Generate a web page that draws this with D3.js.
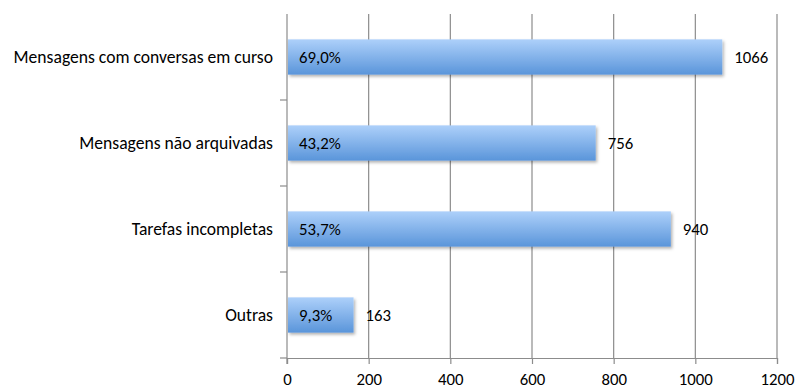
<!DOCTYPE html>
<html>
<head>
<meta charset="utf-8">
<script src="https://cdn.jsdelivr.net/npm/d3@7/dist/d3.min.js"></script>
<style>
  html, body { margin: 0; padding: 0; background: #fff; }
  svg { display: block; font-family: Carlito, Calibri, Lato, "Open Sans", sans-serif; }
</style>
</head>
<body>
<svg id="chart" width="795" height="389"></svg>
<script>
// Categories, values and in-bar percentage labels
const categories = ["Mensagens com conversas em curso", "Mensagens não arquivadas", "Tarefas incompletas", "Outras"];
const values = [1066, 756, 940, 163];
const percents = ["69,0%", "43,2%", "53,7%", "9,3%"];
const xTicks = [0, 200, 400, 600, 800, 1000, 1200];

const svg = d3.select("#chart");
const margin = { top: 14, right: 18, bottom: 31, left: 287 };
const W = 795, H = 389;
const innerW = W - margin.left - margin.right;
const innerH = H - margin.top - margin.bottom;
const labelSize = 17.6, numSize = 16.8;

const x = d3.scaleLinear().domain([0, 1200]).range([0, innerW]);
const y = d3.scaleBand().domain(categories).range([0, innerH]).paddingInner(0.59).paddingOuter(0.295);
const yb = d3.scaleBand().domain(categories).range([0, innerH]);

const defs = svg.append("defs");
const grad = defs.append("linearGradient").attr("id", "barGrad")
  .attr("x1", 0).attr("y1", 0).attr("x2", 0).attr("y2", 1);
grad.append("stop").attr("offset", "0%").attr("stop-color", "#add0fa");
grad.append("stop").attr("offset", "100%").attr("stop-color", "#5a95da");
const shadow = defs.append("filter").attr("id", "shadow")
  .attr("x", "-5%").attr("y", "-20%").attr("width", "115%").attr("height", "160%");
shadow.append("feDropShadow").attr("dx", 1.5).attr("dy", 2).attr("stdDeviation", 1.6)
  .attr("flood-color", "#000").attr("flood-opacity", 0.3);

const g = svg.append("g").attr("transform", `translate(${margin.left},${margin.top})`);

// Vertical gridlines
g.selectAll(".grid").data(xTicks.slice(1)).enter().append("line")
  .attr("x1", d => x(d)).attr("x2", d => x(d))
  .attr("y1", 0).attr("y2", innerH)
  .attr("stroke", "#8c8c8c").attr("stroke-width", 1.2);

// Category axis (left) with ticks between bands
g.append("line").attr("x1", 0).attr("x2", 0).attr("y1", 0).attr("y2", innerH + 6)
  .attr("stroke", "#8c8c8c").attr("stroke-width", 1.2);
g.selectAll(".ytick").data(categories.slice(1)).enter().append("line")
  .attr("x1", -7).attr("x2", 0)
  .attr("y1", d => yb(d)).attr("y2", d => yb(d))
  .attr("stroke", "#8c8c8c").attr("stroke-width", 1.2);
g.append("line").attr("x1", -7).attr("x2", 0).attr("y1", innerH).attr("y2", innerH)
  .attr("stroke", "#8c8c8c").attr("stroke-width", 1.2);

// Value axis (bottom)
const xAxis = g.append("g").attr("transform", `translate(0,${innerH})`)
  .call(d3.axisBottom(x).tickValues(xTicks).tickSize(6).tickPadding(9).tickFormat(d3.format("d")));
xAxis.select(".domain").attr("stroke", "#8c8c8c").attr("stroke-width", 1.2);
xAxis.selectAll(".tick line").attr("stroke", "#8c8c8c").attr("stroke-width", 1.2);
xAxis.selectAll("text").attr("font-size", numSize).attr("fill", "#000")
  .attr("font-family", "Carlito, Calibri, Lato, 'Open Sans', sans-serif");

// Category labels
g.selectAll(".cat").data(categories).enter().append("text")
  .attr("x", -14).attr("y", d => yb(d) + yb.bandwidth() / 2)
  .attr("dy", "0.35em").attr("text-anchor", "end")
  .attr("font-size", labelSize).attr("fill", "#000").text(d => d);

// Bars
const data = categories.map((c, i) => ({ c, v: values[i], p: percents[i] }));
g.selectAll(".bar").data(data).enter().append("rect")
  .attr("x", 1).attr("y", d => y(d.c))
  .attr("width", d => x(d.v) - 1).attr("height", y.bandwidth())
  .attr("fill", "url(#barGrad)").attr("filter", "url(#shadow)");

// Percentage labels inside bars
g.selectAll(".pct").data(data).enter().append("text")
  .attr("x", 12).attr("y", d => y(d.c) + y.bandwidth() / 2)
  .attr("dy", "0.35em").attr("font-size", numSize).attr("fill", "#000").text(d => d.p);

// Value labels after bars
g.selectAll(".val").data(data).enter().append("text")
  .attr("x", d => x(d.v) + 12).attr("y", d => y(d.c) + y.bandwidth() / 2)
  .attr("dy", "0.35em").attr("font-size", numSize).attr("fill", "#000").text(d => d.v);
</script>
</body>
</html>
